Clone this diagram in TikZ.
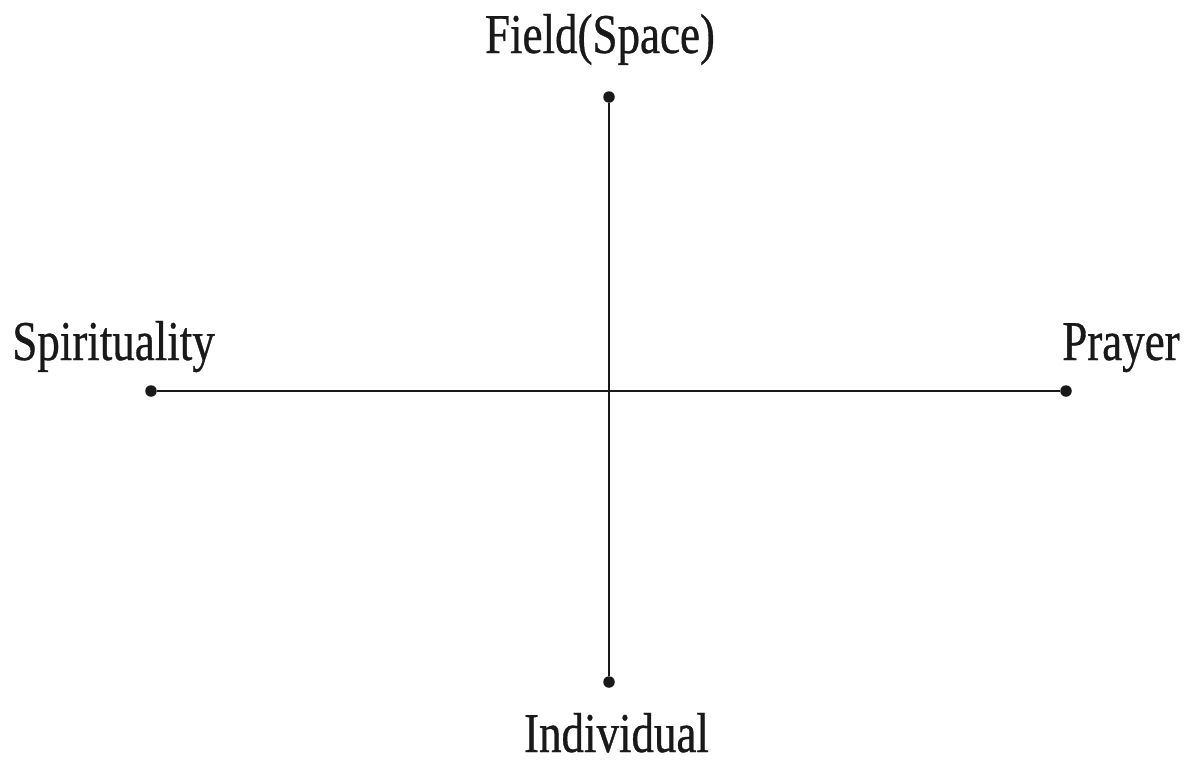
\documentclass[tikz,border=0pt]{standalone}
\usepackage{fontspec}
\setmainfont[FakeStretch=0.8,FakeBold=0.6]{Liberation Serif}
\begin{document}
\begin{tikzpicture}[x=0.02cm,y=-0.02cm,
  dot/.style={circle,fill=black!90,inner sep=0pt,minimum size=0.23cm},
  axis/.style={draw=black!90,line width=1.35pt},
  lbl/.style={inner sep=0pt,font=\fontsize{32}{36}\selectfont,text=black!90}]
\useasboundingbox (0,0) rectangle (1190,761);
\node[dot] (top) at (609,97) {};
\node[dot] (bot) at (609,682) {};
\node[dot] (lft) at (151,391) {};
\node[dot] (rgt) at (1066,391) {};
\draw[axis] (top) -- (bot);
\draw[axis] (lft) -- (rgt);
\node[lbl,anchor=base] (ft) at (600,53) {Field(Space)};
\node[lbl,anchor=base west] (sp) at (12,360) {Spirituality};
\node[lbl,anchor=base east] (pr) at (1180,360) {Prayer};
\node[lbl,anchor=base] (in) at (616.5,752) {Individual};
\end{tikzpicture}
\end{document}
